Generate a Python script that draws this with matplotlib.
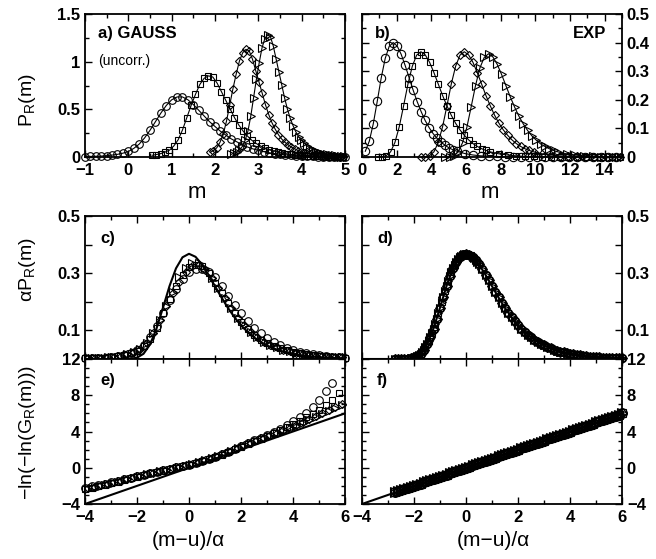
import numpy as np
import matplotlib
matplotlib.use("Agg")
import matplotlib.pyplot as plt
from matplotlib.ticker import MultipleLocator, FixedLocator, FuncFormatter

plt.rcParams['font.family'] = ['Liberation Sans', 'DejaVu Sans']
plt.rcParams['mathtext.fontset'] = 'custom'
plt.rcParams['mathtext.rm'] = 'Liberation Sans'

# ---- panel a) GAUSS (uncorr.) : P_R(m) ----
a_circ_m = [-1.0, -0.875, -0.75, -0.625, -0.5, -0.375, -0.25, -0.125, 0.0, 0.125,
            0.25, 0.375, 0.5, 0.625, 0.75, 0.875, 1.0, 1.125, 1.25, 1.375,
            1.5, 1.625, 1.75, 1.875, 2.0, 2.125, 2.25, 2.375, 2.5, 2.625,
            2.75, 2.875, 3.0, 3.125, 3.25, 3.375, 3.5, 3.625, 3.75, 3.875,
            4.0, 4.125, 4.25, 4.375, 4.5, 4.625, 4.75, 4.875, 5.0]
a_circ_p = [0.004, 0.006, 0.008, 0.010, 0.014, 0.020, 0.028, 0.040, 0.058, 0.090,
            0.135, 0.200, 0.280, 0.370, 0.460, 0.540, 0.600, 0.630, 0.630, 0.600,
            0.550, 0.490, 0.430, 0.370, 0.320, 0.270, 0.230, 0.190, 0.160, 0.130,
            0.105, 0.085, 0.070, 0.056, 0.045, 0.036, 0.029, 0.023, 0.018, 0.014,
            0.011, 0.009, 0.007, 0.005, 0.004, 0.003, 0.003, 0.002, 0.002]

a_sq_m = [0.55, 0.65, 0.75, 0.85, 0.95, 1.05, 1.15, 1.25, 1.35, 1.45,
          1.55, 1.65, 1.75, 1.85, 1.95, 2.05, 2.15, 2.25, 2.35, 2.45,
          2.55, 2.65, 2.75, 2.85, 2.95, 3.05, 3.15, 3.25, 3.35, 3.45,
          3.55, 3.65, 3.75, 3.85, 3.95, 4.05, 4.15, 4.25, 4.35, 4.45,
          4.55, 4.65, 4.75, 4.85, 4.95]
a_sq_p = [0.018, 0.026, 0.036, 0.052, 0.072, 0.116, 0.181, 0.284, 0.413, 0.542,
          0.658, 0.761, 0.826, 0.851, 0.839, 0.774, 0.684, 0.593, 0.503, 0.413,
          0.335, 0.271, 0.219, 0.175, 0.142, 0.116, 0.095, 0.077, 0.065, 0.052,
          0.041, 0.034, 0.028, 0.023, 0.018, 0.015, 0.013, 0.010, 0.008, 0.006,
          0.005, 0.004, 0.003, 0.003, 0.002]

a_dia_m = [1.890, 1.965, 2.040, 2.115, 2.190, 2.265, 2.340, 2.415, 2.490, 2.565,
           2.640, 2.715, 2.790, 2.865, 2.940, 3.015, 3.090, 3.165, 3.240, 3.315,
           3.390, 3.465, 3.540, 3.615, 3.690, 3.765, 3.840, 3.915, 3.990, 4.065,
           4.140, 4.215, 4.290, 4.365, 4.440, 4.515, 4.590, 4.665, 4.740, 4.815,
           4.890, 4.965]
a_dia_p = [0.048, 0.068, 0.096, 0.154, 0.239, 0.376, 0.547, 0.718, 0.872, 1.009,
           1.094, 1.129, 1.112, 1.026, 0.906, 0.787, 0.667, 0.547, 0.445, 0.359,
           0.291, 0.233, 0.188, 0.154, 0.127, 0.103, 0.086, 0.068, 0.055, 0.044,
           0.038, 0.031, 0.024, 0.021, 0.017, 0.014, 0.010, 0.009, 0.007, 0.005,
           0.003, 0.003]

a_tri_m = [2.370, 2.435, 2.500, 2.565, 2.630, 2.695, 2.760, 2.825, 2.890, 2.955,
           3.020, 3.085, 3.150, 3.215, 3.280, 3.345, 3.410, 3.475, 3.540, 3.605,
           3.670, 3.735, 3.800, 3.865, 3.930, 3.995, 4.060, 4.125, 4.190, 4.255,
           4.320, 4.385, 4.450, 4.515, 4.580, 4.645, 4.710, 4.775, 4.840, 4.905,
           4.970]
a_tri_p = [0.027, 0.039, 0.054, 0.078, 0.109, 0.175, 0.272, 0.427, 0.621, 0.815,
           0.989, 1.145, 1.242, 1.280, 1.261, 1.164, 1.028, 0.892, 0.757, 0.621,
           0.504, 0.407, 0.330, 0.264, 0.213, 0.175, 0.144, 0.116, 0.097, 0.078,
           0.062, 0.050, 0.043, 0.035, 0.027, 0.023, 0.019, 0.016, 0.012, 0.010,
           0.008]

# ---- panel b) EXP : P_R(m) ----
b_circ_m = [0.19, 0.42, 0.65, 0.88, 1.11, 1.34, 1.57, 1.80, 2.03, 2.26,
            2.49, 2.72, 2.95, 3.18, 3.41, 3.64, 3.87, 4.10, 4.33, 4.56,
            4.79, 5.02, 5.25, 5.48, 5.94, 6.40, 6.86, 7.32, 7.78, 8.24,
            8.70, 9.16, 9.62, 10.08, 10.54, 11.00, 11.46, 11.92, 12.38, 12.84,
            13.30, 13.76, 14.22, 14.68]
b_circ_p = [0.020, 0.055, 0.116, 0.195, 0.277, 0.345, 0.387, 0.400, 0.388, 0.359,
            0.320, 0.277, 0.234, 0.194, 0.159, 0.128, 0.103, 0.082, 0.065, 0.052,
            0.041, 0.032, 0.025, 0.020, 0.012, 0.007, 0.004, 0.003, 0.002, 0.001,
            0.001, 0.0, 0.0, 0.0, 0.0, 0.0, 0.0, 0.0, 0.0, 0.0,
            0.0, 0.0, 0.0, 0.0]

b_sq_m = [0.90, 1.15, 1.40, 1.65, 1.90, 2.15, 2.40, 2.65, 2.90, 3.15,
          3.40, 3.65, 3.90, 4.15, 4.40, 4.65, 4.90, 5.15, 5.40, 5.65,
          5.90, 6.15, 6.40, 6.65, 6.90, 7.15, 7.40, 7.90, 8.40, 8.90,
          9.40, 9.90, 10.40, 10.90, 11.40, 11.90, 12.40, 12.90, 13.40, 13.90,
          14.40, 14.90]
b_sq_p = [0.000, 0.001, 0.005, 0.018, 0.051, 0.106, 0.179, 0.255, 0.317, 0.356,
          0.368, 0.357, 0.331, 0.295, 0.255, 0.215, 0.179, 0.146, 0.118, 0.095,
          0.076, 0.060, 0.047, 0.037, 0.029, 0.023, 0.018, 0.011, 0.007, 0.004,
          0.002, 0.002, 0.001, 0.001, 0.0, 0.0, 0.0, 0.0, 0.0, 0.0,
          0.0, 0.0]

b_dia_m = [3.40, 3.65, 3.90, 4.15, 4.40, 4.65, 4.90, 5.15, 5.40, 5.65,
           5.90, 6.15, 6.40, 6.65, 6.90, 7.15, 7.40, 7.65, 7.90, 8.15,
           8.40, 8.65, 8.90, 9.15, 9.40, 9.65, 9.90, 10.40, 10.90, 11.40,
           11.90, 12.40, 12.90, 13.40, 13.90, 14.40, 14.90]
b_dia_p = [0.000, 0.001, 0.005, 0.018, 0.051, 0.106, 0.179, 0.255, 0.317, 0.356,
           0.368, 0.357, 0.331, 0.295, 0.255, 0.215, 0.179, 0.146, 0.118, 0.095,
           0.076, 0.060, 0.047, 0.037, 0.029, 0.023, 0.018, 0.011, 0.007, 0.004,
           0.002, 0.002, 0.001, 0.001, 0.0, 0.0, 0.0]

b_tri_m = [4.80, 5.05, 5.30, 5.55, 5.80, 6.05, 6.30, 6.55, 6.80, 7.05,
           7.30, 7.55, 7.80, 8.05, 8.30, 8.55, 8.80, 9.05, 9.30, 9.55,
           9.80, 10.05, 10.30, 10.55, 10.80, 11.05, 11.30, 11.80, 12.30, 12.80,
           13.30, 13.80, 14.30, 14.80]
b_tri_p = [0.000, 0.001, 0.005, 0.018, 0.050, 0.104, 0.176, 0.250, 0.311, 0.348,
           0.361, 0.350, 0.324, 0.289, 0.250, 0.211, 0.175, 0.143, 0.116, 0.093,
           0.074, 0.059, 0.046, 0.037, 0.029, 0.023, 0.018, 0.011, 0.007, 0.004,
           0.002, 0.001, 0.001, 0.000]

# ---- panels c) and e) : rescaled GAUSS data, (m-u)/alpha ----
z_a = [-4.0, -3.75, -3.5, -3.25, -3.0, -2.75, -2.5, -2.25, -2.0, -1.75,
       -1.5, -1.25, -1.0, -0.75, -0.5, -0.25, 0.0, 0.25, 0.5, 0.75,
       1.0, 1.25, 1.5, 1.75, 2.0, 2.25, 2.5, 2.75, 3.0, 3.25,
       3.5, 3.75, 4.0, 4.25, 4.5, 4.75, 5.0, 5.25, 5.5, 5.75, 6.0]
z_b = [-3.875, -3.625, -3.375, -3.125, -2.875, -2.625, -2.375, -2.125, -1.875, -1.625,
       -1.375, -1.125, -0.875, -0.625, -0.375, -0.125, 0.125, 0.375, 0.625, 0.875,
       1.125, 1.375, 1.625, 1.875, 2.125, 2.375, 2.625, 2.875, 3.125, 3.375,
       3.625, 3.875, 4.125, 4.375, 4.625, 4.875, 5.125, 5.375, 5.625, 5.875]

c_circ = [0.002, 0.003, 0.004, 0.005, 0.007, 0.010, 0.015, 0.022, 0.032, 0.050,
          0.078, 0.115, 0.160, 0.205, 0.245, 0.280, 0.305, 0.315, 0.315, 0.305,
          0.285, 0.255, 0.220, 0.190, 0.160, 0.133, 0.110, 0.090, 0.073, 0.059,
          0.048, 0.039, 0.031, 0.025, 0.020, 0.016, 0.013, 0.010, 0.008, 0.006, 0.005]
c_sq = [0.002, 0.003, 0.004, 0.005, 0.007, 0.010, 0.014, 0.020, 0.028, 0.045,
        0.070, 0.110, 0.160, 0.210, 0.255, 0.295, 0.320, 0.330, 0.325, 0.300,
        0.265, 0.230, 0.195, 0.160, 0.130, 0.105, 0.085, 0.068, 0.055, 0.045,
        0.037, 0.030, 0.025, 0.020, 0.016, 0.013, 0.011, 0.009, 0.007, 0.006, 0.005]
c_dia = [0.0025, 0.0035, 0.0045, 0.006, 0.0085, 0.012, 0.017, 0.024, 0.036, 0.057,
         0.090, 0.135, 0.185, 0.232, 0.270, 0.305, 0.325, 0.330, 0.312, 0.284,
         0.248, 0.212, 0.178, 0.145, 0.118, 0.095, 0.076, 0.061, 0.050, 0.041,
         0.033, 0.027, 0.022, 0.018, 0.014, 0.012, 0.010, 0.008, 0.0065, 0.0055]
c_tri = [0.0025, 0.0035, 0.0045, 0.006, 0.0085, 0.012, 0.017, 0.024, 0.036, 0.057,
         0.090, 0.135, 0.185, 0.235, 0.285, 0.318, 0.335, 0.335, 0.318, 0.284,
         0.248, 0.212, 0.178, 0.145, 0.118, 0.095, 0.076, 0.061, 0.050, 0.041,
         0.033, 0.027, 0.022, 0.018, 0.014, 0.012, 0.010, 0.008, 0.0065, 0.0055]
gumbel_p = [0.0, 0.0, 0.0, 0.0, 0.0, 0.0, 0.0001, 0.0007, 0.0046, 0.0182,
            0.0507, 0.1064, 0.1794, 0.2549, 0.3170, 0.3556, 0.3679, 0.3574, 0.3307, 0.2945,
            0.2546, 0.2151, 0.1785, 0.1460, 0.1182, 0.0949, 0.0756, 0.0600, 0.0474, 0.0373,
            0.0293, 0.0230, 0.0180, 0.0141, 0.0110, 0.0086, 0.0067, 0.0052, 0.0041, 0.0032, 0.0025]

e_circ = [-2.20, -2.05, -1.90, -1.75, -1.60, -1.42, -1.25, -1.08, -0.92, -0.75,
          -0.58, -0.43, -0.28, -0.12, 0.03, 0.18, 0.35, 0.55, 0.75, 0.97,
          1.20, 1.47, 1.75, 2.05, 2.38, 2.70, 3.02, 3.33, 3.65, 3.98,
          4.33, 4.75, 5.20, 5.60, 6.05, 6.70, 7.50, 8.45, 9.30, np.nan, np.nan]
e_sq = [-2.35, -2.18, -2.02, -1.86, -1.70, -1.52, -1.34, -1.16, -0.98, -0.80,
        -0.63, -0.47, -0.31, -0.15, 0.00, 0.16, 0.33, 0.52, 0.72, 0.94,
        1.17, 1.43, 1.72, 2.02, 2.33, 2.62, 2.92, 3.22, 3.52, 3.82,
        4.12, 4.45, 4.80, 5.15, 5.55, 5.95, 6.40, 6.90, 7.45, 8.20, np.nan]
e_dia = [-2.25, -2.08, -1.93, -1.77, -1.60, -1.42, -1.24, -1.06, -0.88, -0.70,
         -0.54, -0.38, -0.22, -0.07, 0.09, 0.26, 0.44, 0.63, 0.84, 1.06,
         1.30, 1.58, 1.87, 2.17, 2.46, 2.75, 3.03, 3.31, 3.58, 3.86,
         4.14, 4.44, 4.75, 5.06, 5.38, 5.70, 6.02, 6.35, 6.70, 7.05]
e_tri = [-2.30, -2.13, -1.97, -1.80, -1.63, -1.45, -1.27, -1.09, -0.91, -0.73,
         -0.57, -0.41, -0.25, -0.10, 0.06, 0.23, 0.42, 0.61, 0.82, 1.04,
         1.28, 1.55, 1.84, 2.13, 2.42, 2.70, 2.98, 3.26, 3.53, 3.80,
         4.08, 4.36, 4.65, 4.95, 5.25, 5.56, 5.88, 6.22, 6.58, 6.95]
line_z = [-4.0, 6.0]

# ---- panels d) and f) : rescaled EXP data ----
d_z = [-2.75, -2.625, -2.5, -2.375, -2.25, -2.125, -2.0, -1.875, -1.75, -1.625,
       -1.5, -1.375, -1.25, -1.125, -1.0, -0.875, -0.75, -0.625, -0.5, -0.375,
       -0.25, -0.125, 0.0, 0.125, 0.25, 0.375, 0.5, 0.625, 0.75, 0.875,
       1.0, 1.125, 1.25, 1.375, 1.5, 1.625, 1.75, 1.875, 2.0, 2.125,
       2.25, 2.375, 2.5, 2.625, 2.75, 2.875, 3.0, 3.125, 3.25, 3.375,
       3.5, 3.625, 3.75, 3.875, 4.0, 4.125, 4.25, 4.375, 4.5, 4.625,
       4.75, 4.875, 5.0, 5.125, 5.25, 5.375, 5.5, 5.625, 5.75, 5.875, 6.0]
d_p = [0.0, 0.0, 0.0001, 0.0002, 0.0007, 0.0019, 0.0046, 0.0096, 0.0182, 0.0316,
       0.0507, 0.0758, 0.1064, 0.1416, 0.1794, 0.2179, 0.2549, 0.2885, 0.3170, 0.3396,
       0.3556, 0.3649, 0.3679, 0.3651, 0.3574, 0.3457, 0.3307, 0.3134, 0.2945, 0.2748,
       0.2546, 0.2346, 0.2151, 0.1964, 0.1785, 0.1617, 0.1460, 0.1316, 0.1182, 0.1060,
       0.0949, 0.0848, 0.0756, 0.0674, 0.0600, 0.0533, 0.0474, 0.0421, 0.0373, 0.0331,
       0.0293, 0.0259, 0.0230, 0.0203, 0.0180, 0.0159, 0.0141, 0.0124, 0.0110, 0.0097,
       0.0086, 0.0076, 0.0067, 0.0059, 0.0052, 0.0046, 0.0041, 0.0036, 0.0032, 0.0028, 0.0025]
# extra points of the steep rising part (squares / triangles)
d_z2 = [-1.9375, -1.8125, -1.6875, -1.5625, -1.4375, -1.3125, -1.1875, -1.0625, -0.9375, -0.8125,
        -0.6875, -0.5625, -0.4375, -0.3125, -0.1875, -0.0625, 0.0625, 0.1875, 0.3125, 0.4375]
d_p2 = [0.0067, 0.0134, 0.0243, 0.0404, 0.0625, 0.0904, 0.1235, 0.1602, 0.1986, 0.2367,
        0.2722, 0.3034, 0.3291, 0.3484, 0.3611, 0.3671, 0.3672, 0.3619, 0.3520, 0.3385]
f_g = [-2.65, -2.55, -2.44, -2.33, -2.22, -2.10, -1.98, -1.86, -1.74, -1.62,
       -1.50, -1.375, -1.25, -1.125, -1.0, -0.875, -0.75, -0.625, -0.5, -0.375,
       -0.25, -0.125, 0.0, 0.125, 0.25, 0.375, 0.5, 0.625, 0.75, 0.875,
       1.0, 1.125, 1.25, 1.375, 1.5, 1.625, 1.75, 1.875, 2.0, 2.125,
       2.25, 2.375, 2.5, 2.625, 2.75, 2.875, 3.0, 3.125, 3.25, 3.375,
       3.5, 3.625, 3.75, 3.875, 4.0, 4.125, 4.25, 4.375, 4.5, 4.625,
       4.75, 4.875, 5.0, 5.125, 5.25, 5.375, 5.5, 5.625, 5.75, 5.875, 6.0]

W, H = 656, 559
fig = plt.figure(figsize=(W / 100, H / 100), dpi=100)


def box(x0, y0, x1, y1):
    return [x0 / W, 1 - y1 / H, (x1 - x0) / W, (y1 - y0) / H]


ax_a = fig.add_axes(box(85, 14, 345, 157))
ax_b = fig.add_axes(box(362, 14, 622, 157))
ax_c = fig.add_axes(box(85, 216, 345, 359))
ax_d = fig.add_axes(box(362, 216, 622, 359))
ax_e = fig.add_axes(box(85, 359, 345, 504))
ax_f = fig.add_axes(box(362, 359, 622, 504))


def num(v, pos):
    return f'{v:g}'.replace('-', '\u2212')


def style(ax, right=False):
    for s in ax.spines.values():
        s.set_linewidth(1.3)
    ax.tick_params(which='both', direction='in', top=True, right=True,
                   width=1.0, labelsize=12)
    ax.tick_params(which='major', length=5)
    ax.tick_params(which='minor', length=3)
    ax.tick_params(axis='x', pad=4.5)
    if right:
        ax.tick_params(labelleft=False, labelright=True)
    ax.xaxis.set_major_formatter(FuncFormatter(num))
    ax.yaxis.set_major_formatter(FuncFormatter(num))
    for lab in ax.get_xticklabels() + ax.get_yticklabels():
        lab.set_fontweight('bold')


mk = dict(mfc='none', mec='k', mew=0.8, color='k', clip_on=False)

# a)
ax_a.plot(a_circ_m, a_circ_p, '-', lw=0.8, marker='o', ms=5.5, **mk)
ax_a.plot(a_sq_m, a_sq_p, '-', lw=0.8, marker='s', ms=4.5, **mk)
ax_a.plot(a_dia_m, a_dia_p, '-', lw=0.8, marker='D', ms=4.2, **mk)
ax_a.plot(a_tri_m, a_tri_p, '-', lw=0.8, marker='>', ms=5.5, **mk)
ax_a.set_xlim(-1, 5)
ax_a.set_ylim(0, 1.5)
ax_a.xaxis.set_major_locator(MultipleLocator(1))
ax_a.xaxis.set_minor_locator(MultipleLocator(0.5))
ax_a.yaxis.set_major_locator(MultipleLocator(0.5))
ax_a.yaxis.set_minor_locator(MultipleLocator(0.25))
ax_a.text(0.05, 0.83, 'a) GAUSS', transform=ax_a.transAxes, fontsize=12,
          fontweight='bold')
ax_a.text(0.05, 0.64, '(uncorr.)', transform=ax_a.transAxes, fontsize=10)

# b)
ax_b.plot(b_circ_m, b_circ_p, '-', lw=0.8, marker='o', ms=6, **mk)
ax_b.plot(b_sq_m, b_sq_p, '-', lw=0.8, marker='s', ms=5, **mk)
ax_b.plot(b_dia_m, b_dia_p, '-', lw=0.8, marker='D', ms=4.5, **mk)
ax_b.plot(b_tri_m, b_tri_p, '-', lw=0.8, marker='>', ms=6, **mk)
ax_b.set_xlim(0, 15)
ax_b.set_ylim(0, 0.5)
ax_b.xaxis.set_major_locator(MultipleLocator(2))
ax_b.xaxis.set_minor_locator(MultipleLocator(1))
ax_b.yaxis.set_major_locator(MultipleLocator(0.1))
ax_b.yaxis.set_minor_locator(MultipleLocator(0.05))
ax_b.text(0.05, 0.83, 'b)', transform=ax_b.transAxes, fontsize=12,
          fontweight='bold')
ax_b.text(0.94, 0.83, 'EXP', transform=ax_b.transAxes, fontsize=12,
          fontweight='bold', ha='right')

# c)
ax_c.plot(z_a, c_circ, 'o', ms=5.5, **mk)
ax_c.plot(z_a, c_sq, 's', ms=4.5, **mk)
ax_c.plot(z_b, c_dia, 'D', ms=4.2, **mk)
ax_c.plot(z_b, c_tri, '>', ms=5.5, **mk)
ax_c.plot(z_a, gumbel_p, '-', color='k', lw=1.5)

# d)
ax_d.plot(z_a, gumbel_p, '-', color='k', lw=1.5)
for m, s in (('o', 6), ('s', 5), ('D', 4.6), ('>', 6)):
    ax_d.plot(d_z, d_p, m, ms=s, **mk)
ax_d.plot(d_z2, d_p2, 's', ms=5, **mk)
ax_d.plot(d_z2, d_p2, '>', ms=6, **mk)

# e)
ax_e.plot(z_a, e_circ, 'o', ms=5.5, **mk)
ax_e.plot(z_a, e_sq, 's', ms=4.5, **mk)
ax_e.plot(z_b, e_dia, 'D', ms=4.2, **mk)
ax_e.plot(z_b, e_tri, '>', ms=5.5, **mk)
ax_e.plot(line_z, line_z, '-', color='k', lw=1.5)

# f)
ax_f.plot(line_z, line_z, '-', color='k', lw=1.5)
for m, s in (('o', 7), ('s', 6), ('D', 5.5), ('>', 7)):
    ax_f.plot(d_z, f_g, m, ms=s, **mk)

for ax in (ax_c, ax_d):
    ax.set_xlim(-4, 6)
    ax.set_ylim(0, 0.5)
    ax.yaxis.set_major_locator(FixedLocator([0.1, 0.3, 0.5]))
    ax.yaxis.set_minor_locator(FixedLocator([0.0, 0.2, 0.4]))
    ax.xaxis.set_major_locator(MultipleLocator(2))
    ax.xaxis.set_minor_locator(MultipleLocator(1))
for ax in (ax_e, ax_f):
    ax.set_xlim(-4, 6)
    ax.set_ylim(-4, 12)
    ax.yaxis.set_major_locator(MultipleLocator(4))
    ax.yaxis.set_minor_locator(MultipleLocator(1))
    ax.xaxis.set_major_locator(MultipleLocator(2))
    ax.xaxis.set_minor_locator(MultipleLocator(1))

style(ax_a)
style(ax_b, right=True)
style(ax_c)
style(ax_d, right=True)
style(ax_e)
style(ax_f, right=True)
for ax in (ax_c, ax_d):
    ax.tick_params(labelbottom=False)
    ax.tick_params(axis='y', which='minor', length=5)

ax_c.text(0.058, 0.81, 'c)', transform=ax_c.transAxes, fontsize=12, fontweight='bold')
ax_d.text(0.058, 0.81, 'd)', transform=ax_d.transAxes, fontsize=12, fontweight='bold')
ax_e.text(0.058, 0.82, 'e)', transform=ax_e.transAxes, fontsize=12, fontweight='bold')
ax_f.text(0.058, 0.82, 'f)', transform=ax_f.transAxes, fontsize=12, fontweight='bold')

fig.text(197 / W, 1 - 193 / H, 'm', ha='center', va='center', fontsize=16)
fig.text(490 / W, 1 - 193 / H, 'm', ha='center', va='center', fontsize=16)
fig.text(188 / W, 1 - 540 / H, '(m\u2212u)/\u03b1', ha='center', va='center', fontsize=15)
fig.text(493 / W, 1 - 540 / H, '(m\u2212u)/\u03b1', ha='center', va='center', fontsize=15)
fig.text(28 / W, 1 - 100 / H, r'P$_\mathregular{R}$(m)', rotation=90,
         ha='center', va='center', fontsize=14)
fig.text(28 / W, 1 - 270 / H, r'$\mathregular{\alpha}$P$_\mathregular{R}$(m)', rotation=90,
         ha='center', va='center', fontsize=14)
fig.text(28 / W, 1 - 433 / H, '\u2212ln(\u2212ln(G$_\\mathregular{R}$(m)))', rotation=90,
         ha='center', va='center', fontsize=14)

fig.savefig('out.png', dpi=100)
